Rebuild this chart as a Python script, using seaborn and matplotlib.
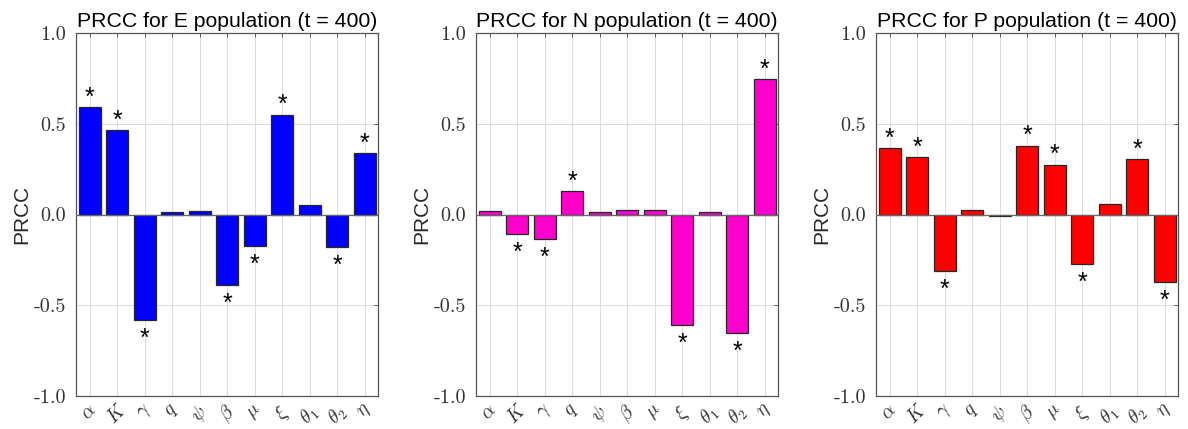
import matplotlib
matplotlib.use("Agg")
import matplotlib.pyplot as plt
import seaborn as sns
import pandas as pd

# Parameter labels (LaTeX math)
params = [r"$\alpha$", r"$K$", r"$\gamma$", r"$q$", r"$\psi$", r"$\beta$",
          r"$\mu$", r"$\xi$", r"$\theta_1$", r"$\theta_2$", r"$\eta$"]

# PRCC values at t = 400
prcc_E = [0.590, 0.465, -0.580, 0.013, 0.018, -0.390, -0.173, 0.550, 0.055, -0.180, 0.337]
prcc_N = [0.018, -0.105, -0.136, 0.127, 0.013, 0.027, 0.027, -0.610, 0.013, -0.655, 0.744]
prcc_P = [0.366, 0.315, -0.310, 0.027, -0.008, 0.380, 0.275, -0.272, 0.060, 0.305, -0.372]

# Significance flags (marked with *)
sig_E = [1, 1, 1, 0, 0, 1, 1, 1, 0, 1, 1]
sig_N = [0, 1, 1, 1, 0, 0, 0, 1, 0, 1, 1]
sig_P = [1, 1, 1, 0, 0, 1, 1, 1, 0, 1, 1]

titles = ["PRCC for E population (t = 400)",
          "PRCC for N population (t = 400)",
          "PRCC for P population (t = 400)"]
colors = ["#0000ff", "#ff00cc", "#ff0000"]
yticks = [-1.0, -0.5, 0.0, 0.5, 1.0]
ytick_labels = ["-1.0", "-0.5", "0.0", "0.5", "1.0"]

sns.set_style("white")
plt.rcParams["mathtext.fontset"] = "cm"
plt.rcParams["font.family"] = ["Liberation Sans", "DejaVu Sans"]

fig = plt.figure(figsize=(11.88, 4.29), dpi=100)
lefts = [0.064, 0.4007, 0.7374]
series = [prcc_E, prcc_N, prcc_P]
sigs = [sig_E, sig_N, sig_P]

for left, vals, sig, title, col in zip(lefts, series, sigs, titles, colors):
    ax = fig.add_axes([left, 0.077, 0.2545, 0.846])
    df = pd.DataFrame({"param": params, "prcc": vals})
    sns.barplot(data=df, x="param", y="prcc", order=params, color=col,
                saturation=1, width=0.8, edgecolor="#262626", linewidth=0.9,
                ax=ax, zorder=3)
    ax.set_xlim(-0.5, len(params) - 0.5)
    ax.set_ylim(-1.0, 1.0)
    ax.set_yticks(yticks)
    ax.set_yticklabels(ytick_labels, fontfamily="cmr10", fontsize=14.5,
                       color="#333333")
    ax.set_xticks(range(len(params)))
    ax.set_xticklabels(params, rotation=45, fontsize=14, color="#333333",
                       ha="center", va="top")
    ax.tick_params(axis="both", direction="in", length=3, width=0.7,
                   top=True, right=True, colors="#555555", labelcolor="#333333")
    ax.tick_params(axis="y", pad=7)
    ax.tick_params(axis="x", pad=4)
    ax.grid(True, color="#dcdcdc", linewidth=0.7, zorder=0)
    ax.set_axisbelow(True)
    for sp in ax.spines.values():
        sp.set_color("#555555")
        sp.set_linewidth(0.9)
        sp.set_visible(True)
    ax.axhline(0, color="#666666", linewidth=0.9, zorder=4)
    ax.set_xlabel("")
    ax.set_ylabel("PRCC", fontsize=15, color="#262626", labelpad=2)
    ax.set_title(title, fontsize=15.3, color="#000000", pad=4)
    for i, (v, s) in enumerate(zip(vals, sig)):
        if not s:
            continue
        if v >= 0:
            ax.text(i, v + 0.014, "*", ha="center", va="baseline", fontsize=18,
                    color="black", zorder=5)
        else:
            ax.text(i, v - 0.143, "*", ha="center", va="baseline", fontsize=18,
                    color="black", zorder=5)

fig.savefig("out.png", dpi=100)
